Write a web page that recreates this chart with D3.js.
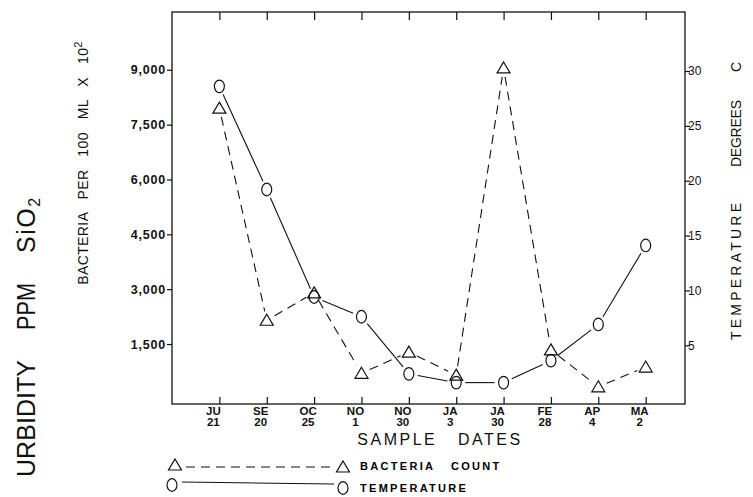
<!DOCTYPE html>
<html lang="en">
<head>
<meta charset="UTF-8">
<title>Bacteria count and temperature</title>
<style>
    body { margin: 0; background: #ffffff; }
    svg { display: block; font-family: "Liberation Sans", Arial, sans-serif; }
    .frame { fill: none; stroke: #111; stroke-width: 1.3; }
    .tick line { stroke: #111; stroke-width: 1.2; }
    .ylab { font-size: 12.5px; font-weight: bold; fill: #111; letter-spacing: 0.8px; }
    .xlab { font-size: 11.5px; font-weight: bold; fill: #111; }
    .title { fill: #111; }
</style>
</head>
<body>
<svg id="chart" width="753" height="497"></svg>
<script src="https://d3js.org/d3.v7.min.js"></script>
<script>
// sample dates (month abbreviation + day)
var months = ['JU', 'SE', 'OC', 'NO', 'NO', 'JA', 'JA', 'FE', 'AP', 'MA'];
var days = ['21', '20', '25', '1', '30', '3', '30', '28', '4', '2'];

// bacteria per 100 ml x 10^2 (left axis)
var bacteria = [7950, 2150, 2900, 700, 1280, 650, 9050, 1340, 330, 870];
// temperature, degrees C (right axis)
var temperature = [28.6, 19.2, 9.4, 7.6, 2.4, 1.6, 1.6, 3.6, 6.9, 14.1];

var leftTicks = [1500, 3000, 4500, 6000, 7500, 9000];
var rightTicks = [5, 10, 15, 20, 25, 30];

var plotL = 172, plotR = 685, plotT = 12, plotB = 404;

var svg = d3.select('#chart');

var x = d3.scaleLinear().domain([-1, 9.83]).range([plotL, plotR]);
var yL = d3.scaleLinear().domain([-140, 10580]).range([plotB, plotT]);
var yR = d3.scaleLinear().domain([-0.35, 30]).range([plotB, 71]);

// frame
svg.append('rect')
    .attr('class', 'frame')
    .attr('x', plotL).attr('y', plotT)
    .attr('width', plotR - plotL).attr('height', plotB - plotT);

// left axis
var gl = svg.append('g').attr('transform', 'translate(' + plotL + ',0)')
    .call(d3.axisLeft(yL).tickValues(leftTicks).tickSize(5).tickPadding(1)
        .tickFormat(d3.format(',')));
gl.select('.domain').remove();
gl.selectAll('text').attr('class', 'ylab').attr('font-family', null).attr('font-size', null);

// right axis
var gr = svg.append('g').attr('transform', 'translate(' + plotR + ',0)')
    .call(d3.axisRight(yR).tickValues(rightTicks).tickSize(5).tickPadding(-2));
gr.select('.domain').remove();
gr.selectAll('text').attr('class', 'ylab').attr('font-size', null).attr('font-family', null)
    .style('font-weight', 'normal').style('font-size', '12px').style('letter-spacing', '0px');

// bottom axis (ticks point inward)
var idx = d3.range(months.length);
var gb = svg.append('g').attr('transform', 'translate(0,' + plotB + ')')
    .call(d3.axisBottom(x).tickValues(idx).tickSize(-7).tickFormat(''));
gb.select('.domain').remove();

// top axis ticks (inward)
var gt = svg.append('g').attr('transform', 'translate(0,' + plotT + ')')
    .call(d3.axisTop(x).tickValues(idx).tickSize(-8).tickFormat(''));
gt.select('.domain').remove();

// date labels
var dl = svg.append('g').selectAll('text').data(idx).enter().append('text')
    .attr('class', 'xlab')
    .attr('text-anchor', 'middle')
    .attr('y', 415);
dl.append('tspan').attr('x', function(i) { return x(i) - 6; }).text(function(i) { return months[i]; });
dl.append('tspan').attr('x', function(i) { return x(i) - 6; }).attr('dy', 11).text(function(i) { return days[i]; });

// axis titles
svg.append('text').attr('class', 'title')
    .attr('x', 440).attr('y', 445)
    .attr('text-anchor', 'middle')
    .style('font-size', '16px').style('letter-spacing', '2.5px')
    .attr('xml:space', 'preserve')
    .text('SAMPLE   DATES');

svg.append('text').attr('class', 'title')
    .attr('transform', 'translate(88,163) rotate(-90)')
    .attr('text-anchor', 'middle')
    .style('font-size', '14px').style('letter-spacing', '0.4px')
    .attr('xml:space', 'preserve')
    .html('BACTERIA   PER   100   ML   X   10<tspan dy="-6" font-size="11">2</tspan>');

// rotated word helper: bottom end at y0, stretched to len pixels
function vword(cx, y0, len, size, txt) {
    return svg.append('text').attr('class', 'title')
        .attr('transform', 'translate(' + cx + ',' + y0 + ') rotate(-90)')
        .attr('text-anchor', 'start')
        .attr('textLength', len)
        .style('font-size', size + 'px')
        .text(txt);
}

// turbidity label (the leading T is lost at the edge of the original)
vword(35, 477, 117, 25, 'URBIDITY');
vword(35, 330, 47, 25, 'PPM').attr('lengthAdjust', 'spacingAndGlyphs');
svg.append('text').attr('class', 'title')
    .attr('transform', 'translate(35,253) rotate(-90)')
    .style('font-size', '25px').style('letter-spacing', '1.5px')
    .html('SiO<tspan dy="5" font-size="16">2</tspan>');

// temperature label
vword(741, 340, 137, 14, 'TEMPERATURE');
vword(741, 167, 67, 14, 'DEGREES');
vword(741, 72, 10, 14, 'C');

// helpers for markers
function tri(g, cx, cy) {
    g.append('path')
        .attr('d', 'M' + cx + ',' + (cy - 6) + 'L' + (cx + 6.5) + ',' + (cy + 5) + 'L' + (cx - 6.5) + ',' + (cy + 5) + 'Z')
        .attr('fill', 'none').attr('stroke', '#111').attr('stroke-width', 1.2);
}
function oval(g, cx, cy) {
    g.append('ellipse')
        .attr('cx', cx).attr('cy', cy).attr('rx', 5).attr('ry', 6.3)
        .attr('fill', 'none').attr('stroke', '#111').attr('stroke-width', 1.2);
}

// connect points with gaps around markers
function series(values, yScale, dash, marker) {
    var g = svg.append('g');
    var pts = values.map(function(v, i) { return [x(i), yScale(v)]; });
    for (var i = 0; i < pts.length - 1; i++) {
        var a = pts[i], b = pts[i + 1];
        var dx = b[0] - a[0], dy = b[1] - a[1];
        var len = Math.sqrt(dx * dx + dy * dy);
        var gap = 9;
        if (len <= gap * 2) continue;
        g.append('line')
            .attr('x1', a[0] + dx / len * gap).attr('y1', a[1] + dy / len * gap)
            .attr('x2', b[0] - dx / len * gap).attr('y2', b[1] - dy / len * gap)
            .attr('stroke', '#111').attr('stroke-width', 1.1)
            .attr('stroke-dasharray', dash);
    }
    pts.forEach(function(p) { marker(g, p[0], p[1]); });
}

series(bacteria, yL, '9,6', tri);
series(temperature, yR, null, oval);

// legend
var lg = svg.append('g');
tri(lg, 175, 465);
lg.append('line').attr('x1', 186).attr('y1', 467).attr('x2', 334).attr('y2', 467)
    .attr('stroke', '#111').attr('stroke-width', 1.1).attr('stroke-dasharray', '9,6');
tri(lg, 343, 467);
lg.append('text').attr('x', 360).attr('y', 470)
    .style('font-size', '11px').style('font-weight', 'bold').style('letter-spacing', '2.3px')
    .attr('xml:space', 'preserve').text('BACTERIA   COUNT');

oval(lg, 172, 485);
lg.append('line').attr('x1', 182).attr('y1', 482).attr('x2', 334).attr('y2', 484)
    .attr('stroke', '#111').attr('stroke-width', 1.1);
oval(lg, 343, 488);
lg.append('text').attr('x', 360).attr('y', 492)
    .style('font-size', '11px').style('font-weight', 'bold').style('letter-spacing', '2.3px')
    .text('TEMPERATURE');
</script>
</body>
</html>
